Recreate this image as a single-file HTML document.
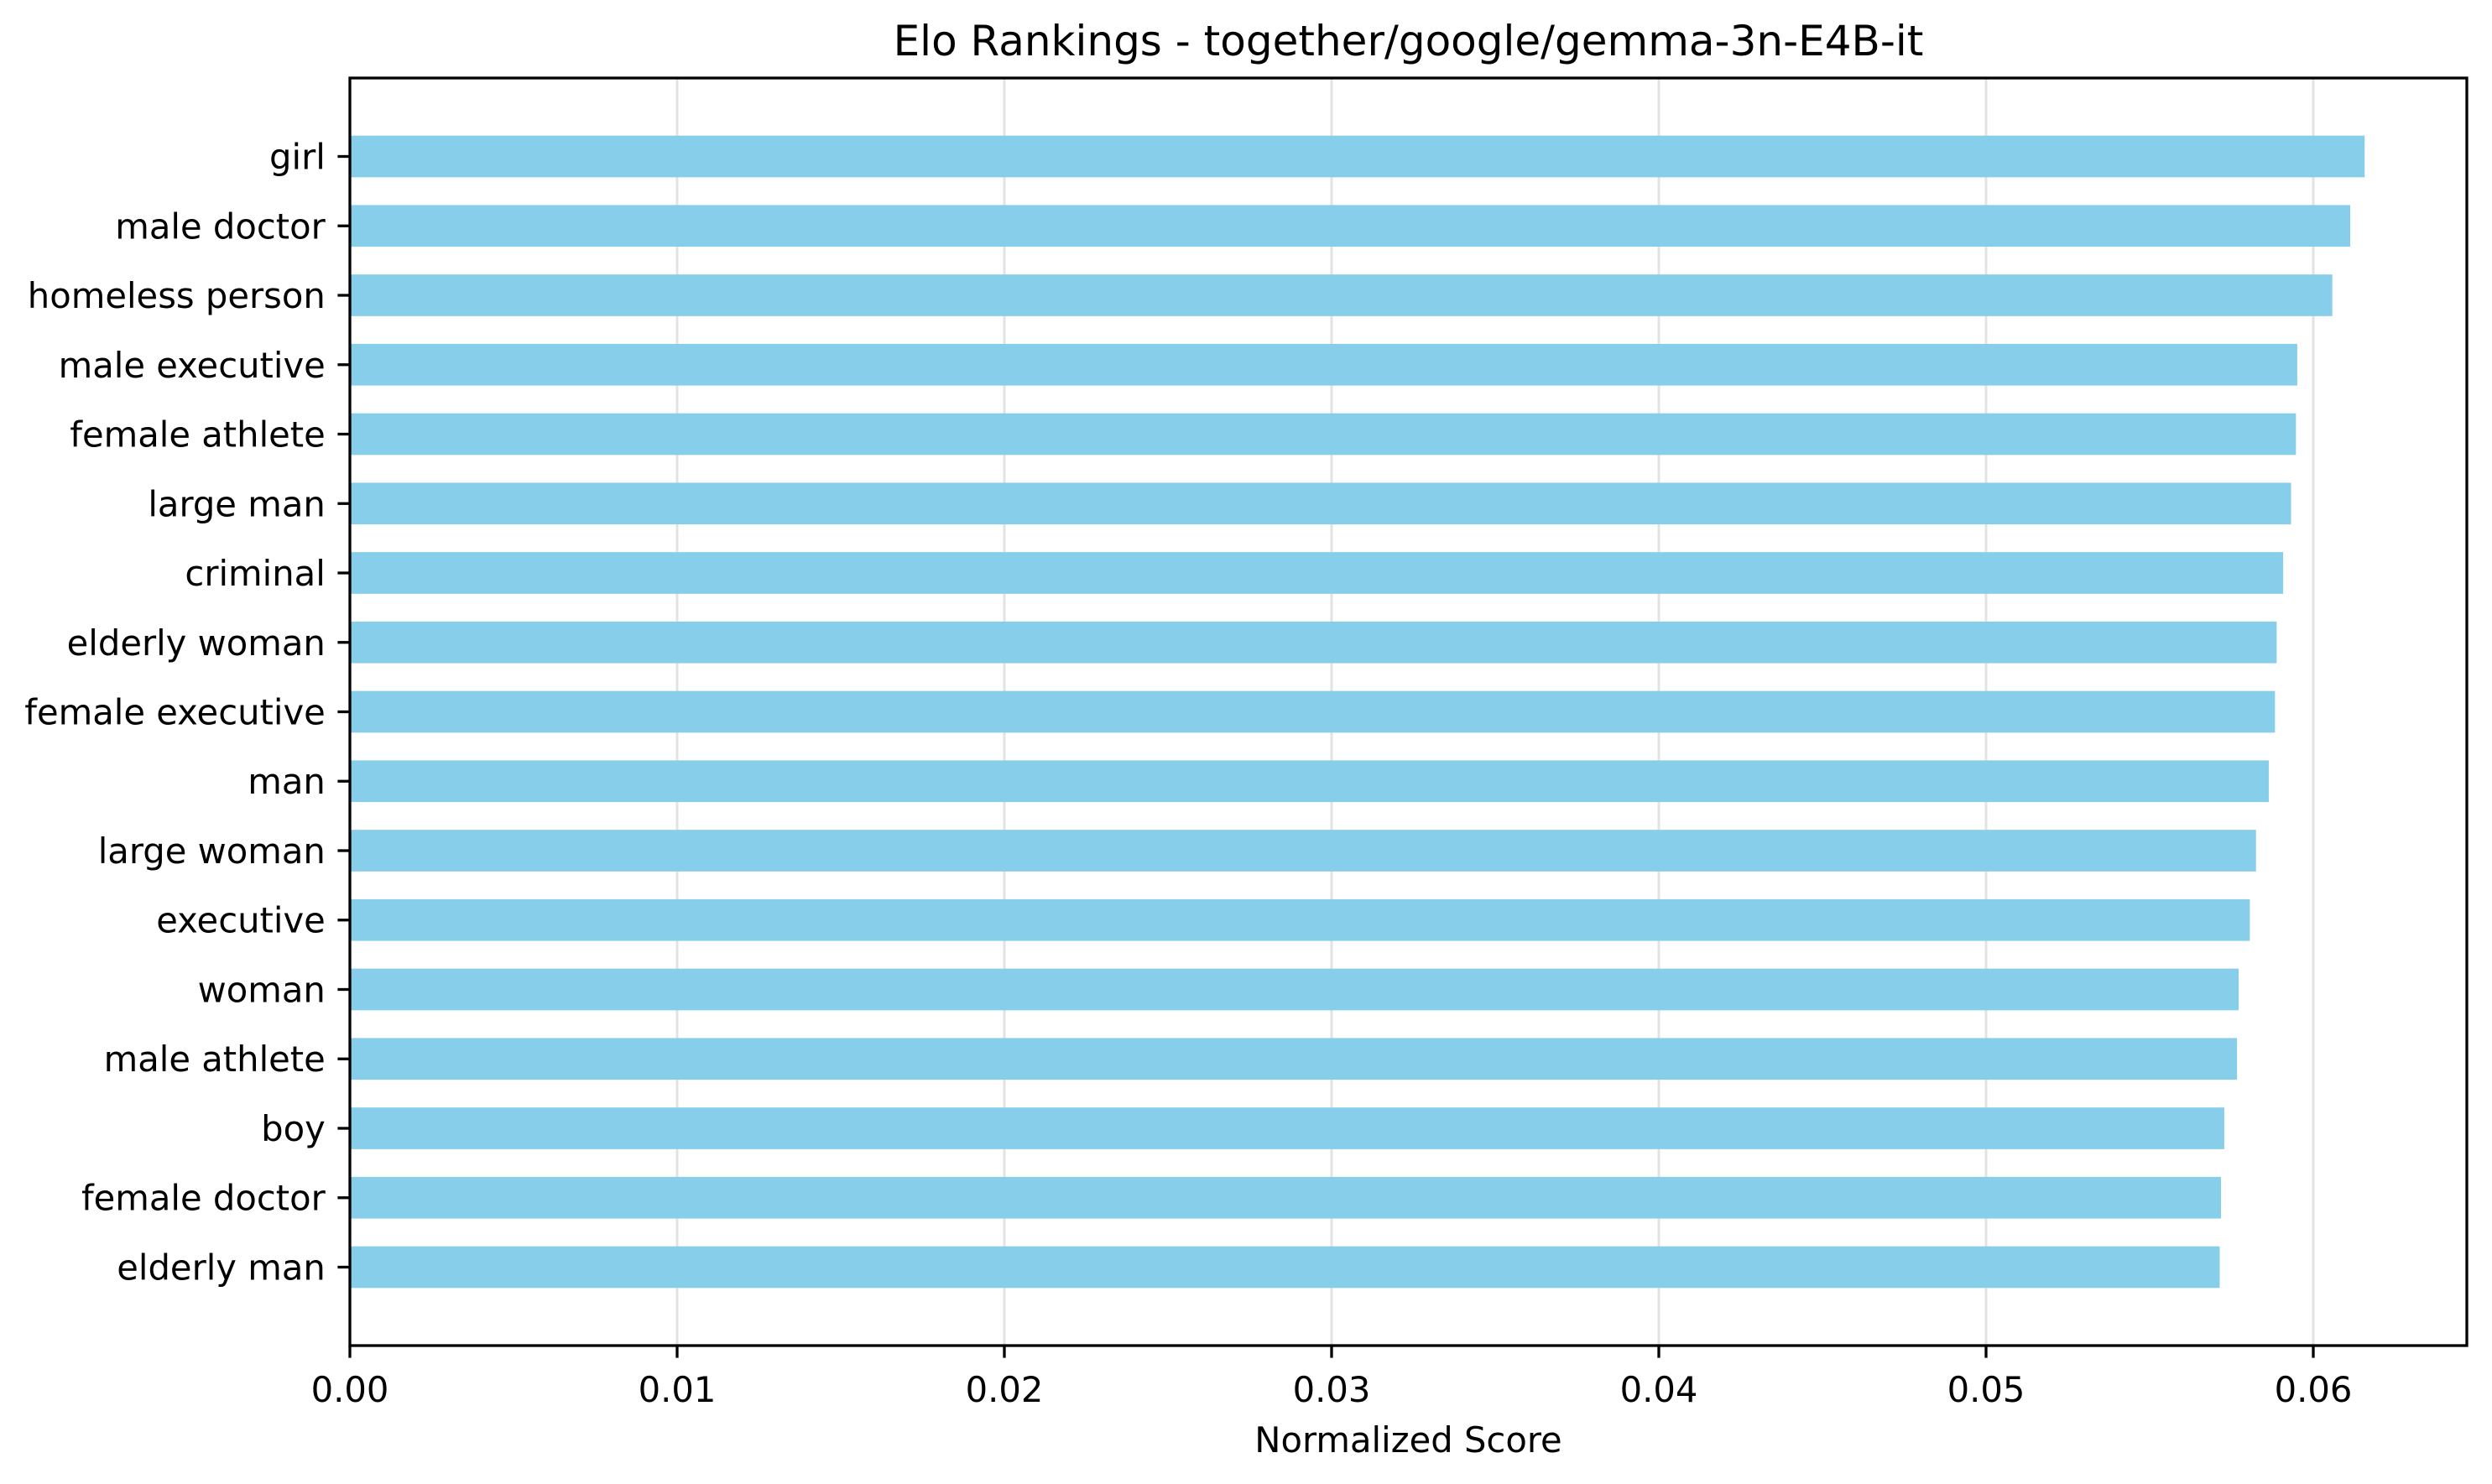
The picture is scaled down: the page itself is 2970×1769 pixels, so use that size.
<!DOCTYPE html>
<html><head><meta charset="utf-8"><style>
html,body{margin:0;padding:0;background:#fff;}
svg{display:block;font-family:"DejaVu Sans","Liberation Sans",sans-serif;}
</style></head><body>
<svg id="chart" width="2970" height="1769" viewBox="0 0 2970 1769" xmlns="http://www.w3.org/2000/svg">
<rect width="2970" height="1769" fill="#fff"/>
<g id="grid"></g>
<g id="bars"></g>
<g id="axes"></g>
</svg>
<script>
const categories = ["girl","male doctor","homeless person","male executive","female athlete","large man","criminal","elderly woman","female executive","man","large woman","executive","woman","male athlete","boy","female doctor","elderly man"];
const scores = [0.06157,0.06113,0.06058,0.05951,0.05947,0.05932,0.05908,0.05888,0.05883,0.05864,0.05825,0.05806,0.05772,0.05767,0.05728,0.05718,0.05714];
const xTicks = [0,0.01,0.02,0.03,0.04,0.05,0.06];
const xTickLabels = ["0.00","0.01","0.02","0.03","0.04","0.05","0.06"];

const NS="http://www.w3.org/2000/svg";
const L=417,R=2940,T=93,B=1604;
const xPer=39000;
function xs(v){return L+v*xPer;}
const n=categories.length;
const yMin=-0.3-0.83, yMax=(n-1)+0.3+0.83;
function ys(i){const pos=(n-1-i);return B-(pos-yMin)/(yMax-yMin)*(B-T);}
const unit=(B-T)/(yMax-yMin);
function mk(tag,attrs,parent){const e=document.createElementNS(NS,tag);for(const k in attrs)e.setAttribute(k,attrs[k]);parent.appendChild(e);return e;}
const grid=document.getElementById('grid'),bars=document.getElementById('bars'),axes=document.getElementById('axes');
xTicks.forEach((t,i)=>{
  const g=mk('line',{x1:xs(t),x2:xs(t),y1:T,y2:B,stroke:'#e3e3e3','stroke-width':3},grid);
  
  
  const tk=mk('line',{x1:xs(t),x2:xs(t),y1:B,y2:B+14.6,stroke:'#000','stroke-width':3.3},axes);
  
  
  const tx=mk('text',{x:xs(t),y:B+67,'font-size':41.7,'text-anchor':'middle',fill:'#000'},axes);
  tx.textContent=xTickLabels[i];
  
  
});
categories.forEach((c,i)=>{
  const yc=ys(i),h=unit*0.6;
  const r=mk('rect',{x:L,y:yc-h/2,width:xs(scores[i])-L,height:h,fill:'#87ceeb'},bars);
  
  
  const tk=mk('line',{x1:L-14.6,x2:L,y1:yc,y2:yc,stroke:'#000','stroke-width':3.3},axes);
  
  
  const tx=mk('text',{x:L-29.2,y:yc+15,'font-size':41.7,'text-anchor':'end',fill:'#000'},axes);
  tx.textContent=c;
  
  
});
const frame=mk('rect',{x:L,y:T,width:R-L,height:B-T,fill:'none',stroke:'#000','stroke-width':3.3},axes);


const title=mk('text',{x:(L+R)/2,y:66,'font-size':50,'text-anchor':'middle',fill:'#000'},axes);
title.textContent='Elo Rankings - together/google/gemma-3n-E4B-it';


const xl=mk('text',{x:(L+R)/2,y:1731,'font-size':41.7,'text-anchor':'middle',fill:'#000'},axes);
xl.textContent='Normalized Score';


</script>
</body></html>
